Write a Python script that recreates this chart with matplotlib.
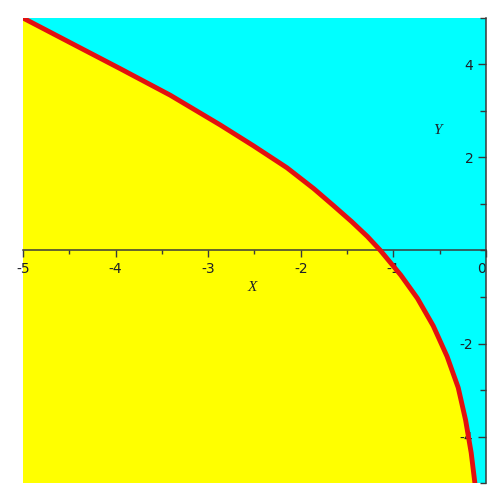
import numpy as np
import matplotlib.pyplot as plt
from matplotlib.ticker import MultipleLocator

# boundary curve between the two regions
curve_x = [-5.0, -4.49, -3.95, -3.41, -2.87, -2.51, -2.15, -1.86, -1.65, -1.45,
           -1.28, -1.14, -0.92, -0.74, -0.57, -0.42, -0.30, -0.22, -0.16, -0.12]
curve_y = [5.0, 4.47, 3.91, 3.34, 2.70, 2.25, 1.78, 1.33, 0.97, 0.62,
           0.30, 0.0, -0.53, -1.03, -1.62, -2.28, -2.95, -3.65, -4.35, -5.0]

x_ticks = [-5, -4, -3, -2, -1, 0]
y_ticks = [-4, -2, 2, 4]

x_range = (-5, 0)
y_range = (-5, 5)

LOW_COLOR = "#ffff00"
HIGH_COLOR = "#00ffff"
CURVE_COLOR = "#e21010"
TEXT_COLOR = "#1e2028"
AXIS_COLOR = "#3a3a3a"

fig = plt.figure("Region", figsize=(4.92, 4.91), dpi=100)
ax = fig.add_axes([23 / 492, 8 / 491, 463 / 492, 465 / 491])
ax.set_facecolor(HIGH_COLOR)

# yellow region: below / left of the curve
poly_x = list(curve_x) + [x_range[0]]
poly_y = list(curve_y) + [y_range[0]]
ax.fill(poly_x, poly_y, color=LOW_COLOR, lw=0, zorder=1)
ax.plot(curve_x, curve_y, color=CURVE_COLOR, lw=3.5, solid_capstyle="round",
        solid_joinstyle="round", zorder=4)

ax.set_xlim(*x_range)
ax.set_ylim(*y_range)

# axes crossing at the origin
ax.spines["top"].set_visible(False)
ax.spines["right"].set_visible(False)
ax.spines["bottom"].set_position(("data", 0))
ax.spines["left"].set_position(("data", 0))
for s in ["bottom", "left"]:
    ax.spines[s].set_color(AXIS_COLOR)
    ax.spines[s].set_linewidth(1.1)
    ax.spines[s].set_zorder(3)

ax.set_xticks(x_ticks)
ax.set_xticklabels(["-%d" % abs(v) if v else "0" for v in x_ticks])
ax.set_yticks(y_ticks)
ax.set_yticklabels(["-%d" % abs(v) if v < 0 else "%d" % v for v in y_ticks])
ax.xaxis.set_minor_locator(MultipleLocator(0.5))
ax.yaxis.set_minor_locator(MultipleLocator(1))

ax.tick_params(axis="both", which="both", direction="out", width=1,
               color=AXIS_COLOR, labelsize=10, labelcolor=TEXT_COLOR)
ax.tick_params(axis="x", which="major", length=5, pad=3)
ax.tick_params(axis="x", which="minor", length=3)
ax.tick_params(axis="y", which="major", length=6, pad=3)
ax.tick_params(axis="y", which="minor", length=4)
ax.get_xticklabels()[-1].set_horizontalalignment("right")
for lab in ax.get_xticklabels() + ax.get_yticklabels():
    lab.set_fontfamily("DejaVu Sans")

ax.text(-2.52, -0.8, "X", fontsize=11, style="italic", family="Liberation Serif",
        color=TEXT_COLOR, ha="center", va="center")
ax.text(-0.52, 2.58, "Y", fontsize=11, style="italic", family="Liberation Serif",
        color=TEXT_COLOR, ha="center", va="center")

fig.savefig("out.png", dpi=100, facecolor="white")
plt.close(fig)
